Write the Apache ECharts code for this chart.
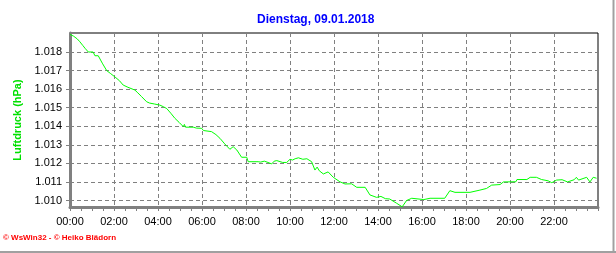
<!DOCTYPE html>
<html>
<head>
<meta charset="utf-8">
<script src="https://cdn.jsdelivr.net/npm/echarts@6/dist/echarts.min.js"></script>
<style>
html,body{margin:0;padding:0;background:#fff;}
#chart{width:616px;height:253px;}
</style>
</head>
<body>
<div id="chart"></div>
<script>
var titleText = 'Dienstag, 09.01.2018';
var yAxisName = 'Luftdruck (hPa)';
var creditText = '\u00a9 WsWin32 - \u00a9 Heiko Blädorn';
var yTicks = [1010, 1011, 1012, 1013, 1014, 1015, 1016, 1017, 1018];
var xTickLabels = ['00:00','02:00','04:00','06:00','08:00','10:00','12:00','14:00','16:00','18:00','20:00','22:00'];

var times = ['00:00','00:10','00:20','00:27','00:35','00:41','00:50','01:03','01:08','01:17','01:28','01:40','01:50','02:03','02:15','02:25','02:38','02:57','03:05','03:15','03:29','03:37','03:50','04:05','04:15','04:24','04:35','04:46','04:58','05:09','05:12','05:15','05:36','05:45','05:59','06:04','06:26','06:38','06:49','07:02','07:16','07:25','07:35','07:48','08:02','08:06','08:33','08:36','08:40','08:50','09:00','09:10','09:17','09:24','09:40','09:51','10:00','10:07','10:14','10:23','10:35','10:46','10:59','11:08','11:14','11:20','11:31','11:44','11:58','12:16','12:30','12:48','13:02','13:25','13:38','13:56','14:08','14:20','14:32','14:51','15:06','15:18','15:32','16:05','16:22','17:02','17:16','17:30','18:11','18:38','18:56','19:10','19:33','19:42','20:16','20:19','20:46','20:55','21:12','21:26','21:44','21:54','22:07','22:22','22:37','22:55','23:01','23:07','23:29','23:38','23:47','23:56'];
var pressure = [1018.95,1018.85,1018.7,1018.55,1018.35,1018.2,1018.0,1018.0,1017.8,1017.8,1017.4,1017.0,1016.85,1016.65,1016.45,1016.22,1016.1,1015.95,1015.8,1015.6,1015.32,1015.25,1015.2,1015.14,1015.05,1014.95,1014.7,1014.43,1014.2,1013.98,1014.1,1013.95,1013.95,1013.9,1013.89,1013.77,1013.71,1013.55,1013.35,1013.05,1012.76,1012.9,1012.72,1012.33,1012.33,1012.09,1012.09,1012.17,1012.07,1012.12,1012.05,1011.97,1012.12,1012.15,1012.05,1012.05,1012.22,1012.18,1012.25,1012.3,1012.22,1012.25,1012.09,1011.64,1011.8,1011.6,1011.43,1011.54,1011.25,1011.01,1010.89,1010.9,1010.71,1010.71,1010.3,1010.17,1010.22,1010.1,1010.08,1009.85,1009.66,1010.0,1010.12,1010.05,1010.12,1010.12,1010.53,1010.44,1010.44,1010.56,1010.65,1010.83,1010.86,1011.0,1011.01,1011.13,1011.13,1011.25,1011.25,1011.13,1011.06,1010.96,1011.1,1011.12,1011.0,1011.12,1011.25,1011.1,1011.25,1011.0,1011.25,1011.2];

function toMin(t){var p=t.split(':');return (+p[0])*60+(+p[1]);}
var seriesData = times.map(function(t,i){return [toMin(t), pressure[i]];});
var xTickValues = xTickLabels.map(toMin);

var chart = echarts.init(document.getElementById('chart'), null, {renderer:'canvas'});
var FONT = '"Liberation Sans", Arial, sans-serif';
chart.setOption({
  animation:false,
  backgroundColor:'#ffffff',
  grid:{left:70, right:18, top:33, bottom:46, show:true, borderColor:'#000', borderWidth:1, backgroundColor:'transparent'},
  xAxis:{
    type:'value', min:0, max:1440, interval:120,
    axisLine:{show:true, onZero:false, lineStyle:{color:'#808080', width:3}},
    axisTick:{show:true, length:4, lineStyle:{color:'#808080', width:1}},
    minorTick:{show:true, splitNumber:4, length:4, lineStyle:{color:'#808080', width:1}},
    axisLabel:{show:true, margin:9, color:'#000', fontFamily:FONT, fontSize:11, showMaxLabel:false,
      formatter:function(v){var i=xTickValues.indexOf(v);return i>=0?xTickLabels[i]:'';}},
    splitLine:{show:true, lineStyle:{color:'#808080', width:1, type:[4,3]}}
  },
  yAxis:{
    type:'value', min:1009.65, max:1019.024,
    name:yAxisName, nameLocation:'middle', nameGap:36, nameRotate:90,
    nameTextStyle:{color:'#00e000', fontFamily:FONT, fontSize:11, fontWeight:'bold'},
    axisLine:{show:true, onZero:false, lineStyle:{color:'#808080', width:3}},
    axisTick:{show:true, length:4, customValues:yTicks, lineStyle:{color:'#808080', width:1}},
    axisLabel:{show:true, margin:8, color:'#000', fontFamily:FONT, fontSize:11, customValues:yTicks,
      formatter:function(v){return (v/1000).toFixed(3);}},
    splitLine:{show:true, lineStyle:{color:'#808080', width:1, type:[4,3]}}
  },
  graphic:[
    {type:'text', left:257, top:14, style:{text:titleText, fill:'#0000ff', font:'bold 12px '+FONT}},
    {type:'text', left:3, top:234, style:{text:creditText, fill:'#ff0000', font:'bold 8px '+FONT}},
    {type:'rect', shape:{x:612.5, y:0, width:2, height:253}, style:{fill:'#a0a0a0'}, silent:true},
    {type:'rect', shape:{x:0, y:251, width:616, height:2}, style:{fill:'#a0a0a0'}, silent:true}
  ],
  series:[{
    type:'line', data:seriesData, showSymbol:false, smooth:false,
    lineStyle:{color:'#00ff00', width:1}, itemStyle:{color:'#00ff00'}
  }]
});
</script>
</body>
</html>
